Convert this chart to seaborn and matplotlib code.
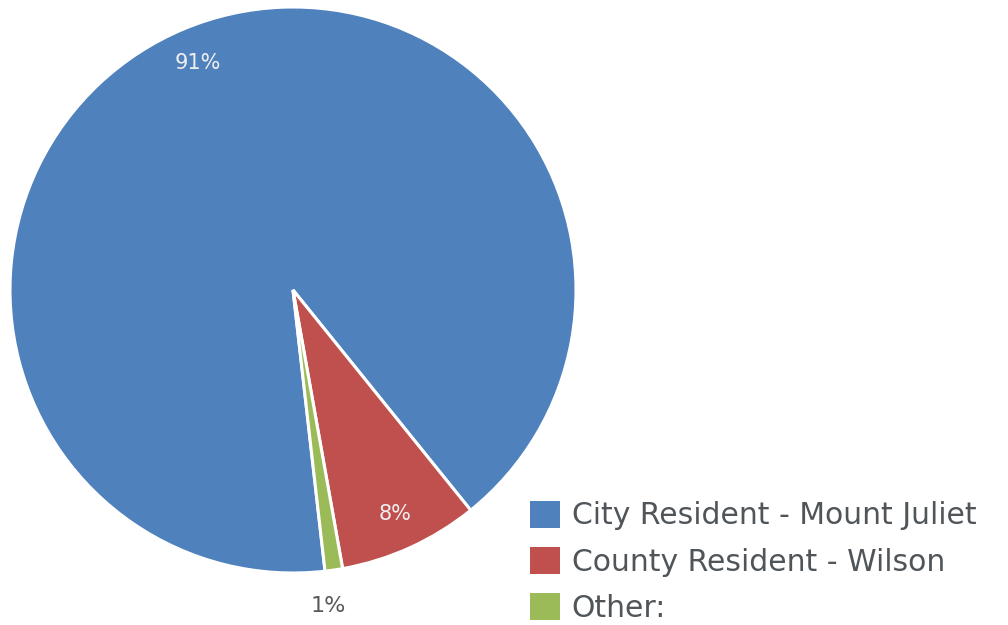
import numpy as np
import seaborn as sns
import matplotlib
matplotlib.use("Agg")
import matplotlib.pyplot as plt
from matplotlib.patches import Patch

# residency breakdown
categories = ["City Resident - Mount Juliet", "County Resident - Wilson", "Other:"]
shares = [91, 8, 1]
pct_labels = ["91%", "8%", "1%"]
colors = ["#4F81BD", "#C0504D", "#9BBB59"]

sns.set_theme(style="white")
plt.rcParams["font.family"] = ["DejaVu Sans"]

fig = plt.figure(figsize=(10.08, 6.25), dpi=100)
ax = fig.add_axes([10 / 1008, 52 / 625, 566 / 1008, 566 / 625])

wedges, _ = ax.pie(shares, colors=colors, startangle=276.5, counterclock=False,
                   radius=1, wedgeprops=dict(edgecolor="white", linewidth=2.2))
ax.set_xlim(-1, 1)
ax.set_ylim(-1, 1)
ax.set_aspect("equal")
ax.axis("off")

# percentage labels
for w, lab in zip(wedges, pct_labels):
    mid = np.deg2rad((w.theta1 + w.theta2) / 2)
    if lab == "1%":
        x0, y0 = np.cos(mid) * 1.01, np.sin(mid) * 1.01
        ax.plot([x0, x0], [y0 - 0.01, y0 - 0.075], color="#999999", lw=1)
        ax.text(x0 - 0.02, y0 - 0.082, lab, ha="center", va="top",
                fontsize=16, color="#595959")
    else:
        r = 0.87
        ax.text(np.cos(mid) * r, np.sin(mid) * r, lab, ha="center", va="center",
                fontsize=15, color="#F0F0F0")

handles = [Patch(facecolor=c, edgecolor="none") for c in colors]
fig.legend(handles, categories, loc="lower left", bbox_to_anchor=(518 / 1008, -10 / 625),
           frameon=False, fontsize=21.5, labelcolor="#50555A",
           handlelength=1.0, handleheight=1.0, handletextpad=0.4,
           labelspacing=0.56, borderaxespad=0)

fig.savefig("out.png", dpi=100)
